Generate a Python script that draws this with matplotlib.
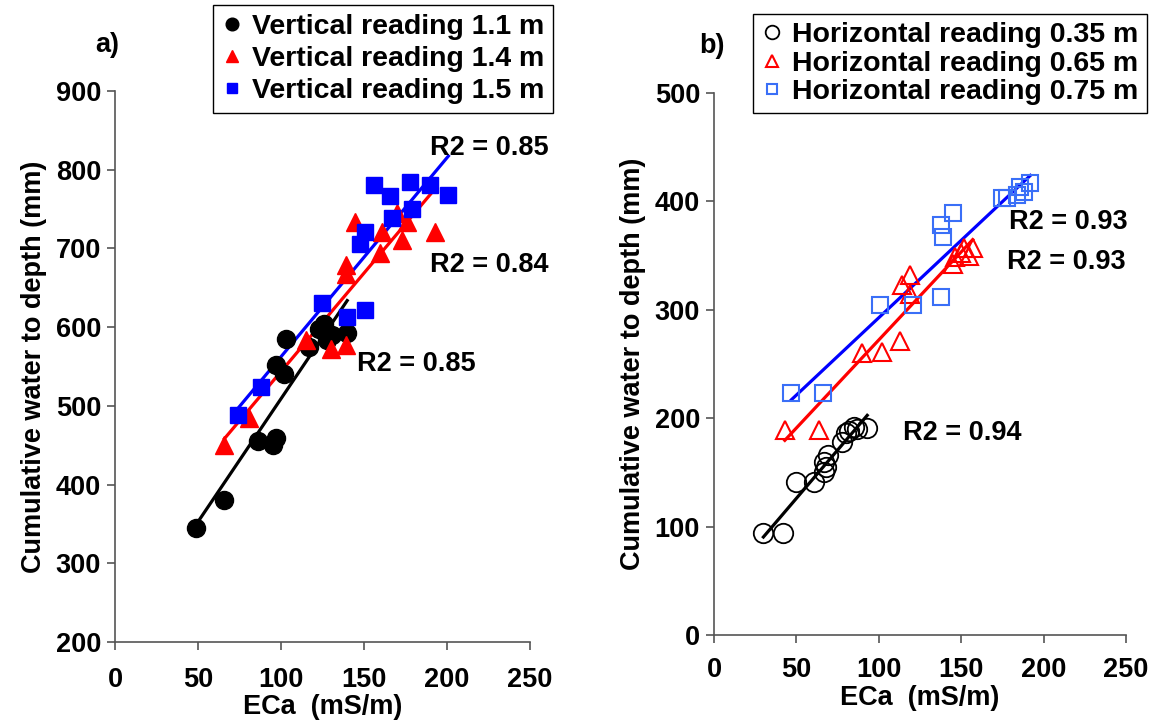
import numpy as np
import matplotlib.pyplot as plt

plt.rcParams['font.family'] = ['Liberation Sans', 'DejaVu Sans']
plt.rcParams['font.weight'] = 'bold'

# panel a: vertical readings (ECa mS/m, cumulative water mm)
v11_x = [49, 66, 86, 95, 97, 97, 103, 102, 117, 123, 126, 128, 131, 140]
v11_y = [345, 381, 455, 450, 459, 552, 585, 541, 575, 597, 604, 584, 590, 592]
v14_x = [66, 81, 115, 130, 139, 139, 139, 145, 160, 161, 170, 173, 176, 193]
v14_y = [450, 485, 584, 572, 577, 668, 679, 733, 694, 721, 745, 711, 734, 721]
v15_x = [74, 88, 125, 140, 151, 148, 151, 156, 166, 167, 178, 179, 190, 201]
v15_y = [489, 524, 631, 613, 622, 706, 721, 781, 766, 738, 784, 750, 781, 768]

# panel b: horizontal readings
h035_x = [30, 42, 50, 61, 67, 67, 68, 69, 78, 80, 82, 85, 87, 93]
h035_y = [94, 94, 141, 141, 150, 160, 155, 166, 178, 186, 188, 192, 190, 191]
h065_x = [43, 64, 90, 102, 113, 114, 119, 119, 145, 146, 150, 152, 155, 157]
h065_y = [189, 189, 260, 261, 271, 323, 332, 315, 342, 349, 352, 357, 350, 357]
h075_x = [47, 66, 101, 121, 138, 138, 139, 145, 175, 178, 184, 186, 188, 192]
h075_y = [223, 223, 304, 304, 312, 378, 367, 389, 403, 403, 406, 413, 409, 417]

r2_a = ["R2 = 0.85", "R2 = 0.84", "R2 = 0.85"]
r2_b = ["R2 = 0.93", "R2 = 0.93", "R2 = 0.94"]

FS = 19.5

fig = plt.figure(figsize=(11.59, 7.26), dpi=100)
ax1 = fig.add_axes([0.0992, 0.1157, 0.3578, 0.759])
ax2 = fig.add_axes([0.616, 0.1253, 0.3555, 0.7466])


def trend(ax, x, y, color):
    x = np.array(x, float)
    y = np.array(y, float)
    k, b = np.polyfit(x, y, 1)
    xs = np.array([x.min(), x.max()])
    ax.plot(xs, k * xs + b, color=color, lw=2.3, zorder=3)


def style(ax, ylim, yticks, xpad):
    ax.set_xlim(0, 250)
    ax.set_ylim(*ylim)
    ax.set_xticks([0, 50, 100, 150, 200, 250])
    ax.set_yticks(yticks)
    for s in ['top', 'right']:
        ax.spines[s].set_visible(False)
    for s in ['left', 'bottom']:
        ax.spines[s].set_color('#555555')
        ax.spines[s].set_linewidth(1.2)
    ax.tick_params(labelsize=FS, length=6, width=1.2, color='#555555', pad=4)
    ax.tick_params(axis='x', pad=xpad)
    for lab in ax.get_xticklabels() + ax.get_yticklabels():
        lab.set_fontweight('bold')
    ax.set_xlabel("ECa  (mS/m)", fontsize=FS, fontweight='bold', labelpad=1)
    ax.set_ylabel("Cumulative water to depth (mm)", fontsize=FS,
                  fontweight='bold', labelpad=6)


def legend(ax, anchor, spacing):
    leg = ax.legend(loc='upper left', bbox_to_anchor=anchor, bbox_transform=fig.transFigure,
                    fontsize=20.5, markerscale=0.7, handlelength=0.7, handletextpad=0.35,
                    labelspacing=spacing, borderpad=0.3, borderaxespad=0,
                    fancybox=False, framealpha=1)
    leg.get_frame().set_edgecolor('black')
    for t in leg.get_texts():
        t.set_fontweight('bold')


# panel a
ax1.plot(v11_x, v11_y, 'o', color='black', ms=13, label="Vertical reading 1.1 m", zorder=4)
ax1.plot(v14_x, v14_y, '^', color='red', ms=13, label="Vertical reading 1.4 m", zorder=4)
ax1.plot(v15_x, v15_y, 's', color='blue', ms=11, label="Vertical reading 1.5 m", zorder=4)
trend(ax1, v11_x, v11_y, 'black')
trend(ax1, v14_x, v14_y, 'red')
trend(ax1, v15_x, v15_y, 'blue')
style(ax1, (200, 900), range(200, 901, 100), 12)
ax1.text(190, 828, r2_a[0], fontsize=FS, fontweight='bold', va='center')
ax1.text(190, 679, r2_a[1], fontsize=FS, fontweight='bold', va='center')
ax1.text(146, 553, r2_a[2], fontsize=FS, fontweight='bold', va='center')
fig.text(0.082, 0.928, "a)", fontsize=FS, fontweight='bold')
legend(ax1, (0.184, 0.993), 0.22)

# panel b
ax2.plot(h035_x, h035_y, 'o', mfc='none', mec='black', mew=1.3, ms=14,
         label="Horizontal reading 0.35 m", zorder=4)
ax2.plot(h065_x, h065_y, '^', mfc='none', mec='red', mew=1.5, ms=13,
         label="Horizontal reading 0.65 m", zorder=4)
ax2.plot(h075_x, h075_y, 's', mfc='none', mec='#3a6ff7', mew=1.5, ms=11,
         label="Horizontal reading 0.75 m", zorder=4)
trend(ax2, h035_x, h035_y, 'black')
trend(ax2, h065_x, h065_y, 'red')
trend(ax2, h075_x, h075_y, 'blue')
style(ax2, (0, 500), range(0, 501, 100), 10)
ax2.text(179, 381, r2_b[0], fontsize=FS, fontweight='bold', va='center')
ax2.text(178, 344, r2_b[1], fontsize=FS, fontweight='bold', va='center')
ax2.text(115, 186, r2_b[2], fontsize=FS, fontweight='bold', va='center')
fig.text(0.603, 0.927, "b)", fontsize=FS, fontweight='bold')
legend(ax2, (0.65, 0.981), 0.08)

fig.savefig("out.png", dpi=100)
